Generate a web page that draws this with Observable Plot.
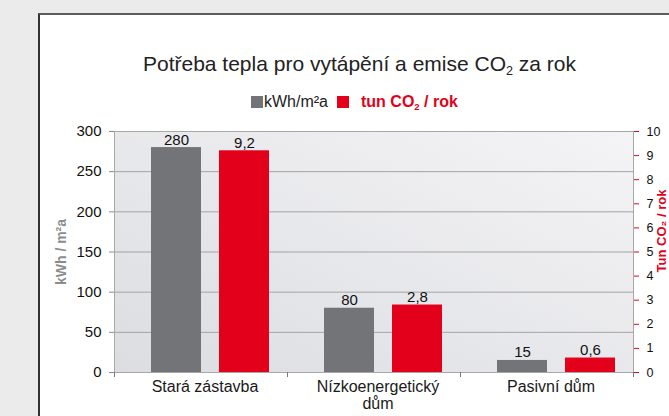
<!DOCTYPE html>
<html>
<head>
<meta charset="utf-8">
<script src="https://cdn.jsdelivr.net/npm/d3@7"></script>
<script src="https://cdn.jsdelivr.net/npm/@observablehq/plot@0.6"></script>
<style>
  html, body { margin: 0; padding: 0; }
  body { width: 669px; height: 416px; overflow: hidden; background: #ebebeb; position: relative;
         font-family: "Liberation Sans", Arial, Helvetica, sans-serif; }
  #card { position: absolute; left: 38px; top: 13px; width: 700px; height: 500px; background: #fff;
          border-top: 2px solid #5c5c5c; border-left: 2px solid #333; }
  #title { position: absolute; left: 39px; width: 641px; top: 52px; text-align: center;
           font-size: 21px; color: #222; white-space: nowrap; }
  #title sub, #legend sub { font-size: 60%; vertical-align: -0.35em; line-height: 0; }
  #legend { position: absolute; left: 251px; top: 93px; display: flex; align-items: center;
            font-size: 16px; color: #222; white-space: nowrap; height: 18px; }
  .sw { display: inline-block; width: 12px; height: 12px; }
  #chart { position: absolute; left: 0; top: 115px; }
</style>
</head>
<body>
<div id="card"></div>
<div id="title">Potřeba tepla pro vytápění a emise CO<sub>2</sub> za rok</div>
<div id="legend">
  <span class="sw" style="background:#737478"></span><span style="margin-left:1px">kWh/m²a</span>
  <span class="sw" style="background:#e2001a;margin-left:9px"></span>
  <span style="color:#e2001a;font-weight:bold;margin-left:12px">tun CO<sub>2</sub> / rok</span>
</div>
<div id="chart"></div>
<script>
// ---- data ----
const categories = ["Stará zástavba", "Nízkoenergetický dům", "Pasivní dům"];
const categoryLabels = ["Stará zástavba", "Nízkoenergetický\ndům", "Pasivní dům"];
const heatDemand = [280, 80, 15];        // kWh/m²a (left axis)
const co2Emissions = [9.2, 2.8, 0.6];    // tun CO2 / rok (right axis)
const leftTicks = [0, 50, 100, 150, 200, 250, 300];
const rightTicks = [0, 1, 2, 3, 4, 5, 6, 7, 8, 9, 10];
const leftMax = 300, rightMax = 10;

// ---- layout / style ----
const W = 669, H = 301, mL = 114, mR = 36, mT = 16, mB = 44;
const bw = (W - mL - mR) / categories.length;
const barW = 50, grayStart = 37, redStart = 105;
const k = leftMax / rightMax;
const GRAY = "#737478", RED = "#e2001a";

const rows = categories.map((c, i) => ({cat: c, kwh: heatDemand[i], co2: co2Emissions[i]}));
const fmt = v => String(v).replace(".", ",");

const plot = Plot.plot({
  width: W, height: H,
  marginLeft: mL, marginRight: mR, marginTop: mT, marginBottom: mB,
  style: {background: "transparent", fontFamily: "'Liberation Sans', Arial, sans-serif", color: "#1a1a1a"},
  x: {domain: categories, padding: 0},
  y: {domain: [0, leftMax]},
  marks: [
    Plot.frame({fill: "url(#bgGrad)"}),
    Plot.gridY(leftTicks, {stroke: "#a3a3a3", strokeOpacity: 1}),
    Plot.frame({stroke: "#a8a8a8"}),
    Plot.barY(rows, {x: "cat", y: "kwh", fill: GRAY, insetLeft: grayStart, insetRight: bw - grayStart - barW}),
    Plot.barY(rows, {x: "cat", y: d => d.co2 * k, fill: RED, insetLeft: redStart, insetRight: bw - redStart - barW}),
    Plot.text(rows, {x: "cat", y: "kwh", text: d => fmt(d.kwh), lineAnchor: "bottom", dy: -3,
                     dx: grayStart + barW / 2 - bw / 2, fontSize: 15, fill: "#111"}),
    Plot.text(rows, {x: "cat", y: d => d.co2 * k, text: d => fmt(d.co2), lineAnchor: "bottom", dy: -3,
                     dx: redStart + barW / 2 - bw / 2, fontSize: 15, fill: "#111"}),
    // left axis
    Plot.axisY(leftTicks, {anchor: "left", tickSize: 5, tickPadding: 8, stroke: "#888", fill: "#111",
                           fontSize: 15, label: null}),
    Plot.text(["kWh / m²a"], {frameAnchor: "left", textAnchor: "middle", rotate: -90, dx: -53,
                              fontSize: 14, fontWeight: "bold", fill: "#8c8c8c"}),
    // right axis
    Plot.axisY(rightTicks.map(v => v * k), {anchor: "right", tickSize: 5, tickPadding: 8, stroke: RED, fill: "#111",
                           fontSize: 12.5, tickFormat: d => fmt(Math.round(d / k)), label: null}),
    Plot.text(["Tun CO₂ / rok"], {frameAnchor: "right", textAnchor: "middle", rotate: -90, dx: 28, dy: -21,
                                  fontSize: 13, fontWeight: "bold", fill: RED}),
    // x axis: boundary ticks + labels
    Plot.axisX(categories, {anchor: "bottom", tickSize: 5, dx: -bw / 2, tickFormat: () => "", stroke: "#777", label: null}),
    Plot.axisX(categories.slice(-1), {anchor: "bottom", tickSize: 5, dx: bw / 2, tickFormat: () => "", stroke: "#777", label: null}),
    Plot.axisX(categories, {anchor: "bottom", tickSize: 0, tickPadding: 7, dx: 4, fontSize: 16, fill: "#1a1a1a",
                            tickFormat: d => categoryLabels[categories.indexOf(d)], lineHeight: 1.06, label: null})
  ]
});

const ns = "http://www.w3.org/2000/svg";
const defs = document.createElementNS(ns, "defs");
defs.innerHTML = `<linearGradient id="bgGrad" x1="0" y1="1" x2="1" y2="0">
  <stop offset="0" stop-color="#dcdde1"/><stop offset="1" stop-color="#f4f4f6"/></linearGradient>`;
plot.insertBefore(defs, plot.firstChild);
document.getElementById("chart").appendChild(plot);
</script>
</body>
</html>
